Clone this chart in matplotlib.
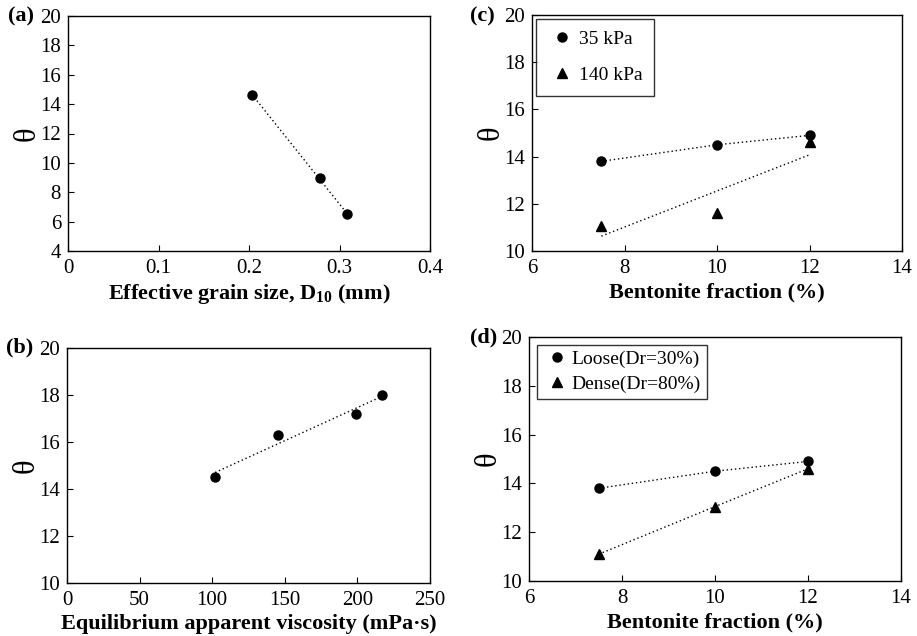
import numpy as np
import matplotlib
matplotlib.use("Agg")
import matplotlib.pyplot as plt

plt.rcParams['font.family'] = ['Liberation Serif', 'DejaVu Serif']
plt.rcParams['mathtext.fontset'] = 'custom'
plt.rcParams['mathtext.rm'] = 'Liberation Serif'
plt.rcParams['mathtext.bf'] = 'Liberation Serif:bold'

# (a) effective grain size
d10 = [0.203, 0.278, 0.308]
theta_a = [14.65, 9.0, 6.5]

# (b) equilibrium apparent viscosity
visc = [102, 145, 199, 217]
theta_b = [14.5, 16.3, 17.2, 18.0]

# (c) bentonite fraction, confining pressure
bent = [7.5, 10, 12]
theta_35 = [13.8, 14.5, 14.9]
theta_140 = [11.05, 11.6, 14.6]

# (d) bentonite fraction, relative density
theta_loose = [13.8, 14.5, 14.9]
theta_dense = [11.1, 13.05, 14.6]

W, H = 917, 636
fig = plt.figure(figsize=(W / 100, H / 100), dpi=100)


def box(l, r, t, b):
    return [l / W, 1 - b / H, (r - l) / W, (b - t) / H]


dots = (0, (1, 2))
mk = dict(color='black', markersize=6.5, linestyle='none')


def trend(ax, x, y):
    k, c = np.polyfit(x, y, 1)
    xs = np.array([min(x), max(x)])
    ax.plot(xs, k * xs + c, color='black', lw=1, linestyle=dots)


def style(ax, xlabel, xlim, xticks, ylim, yticks, xfmt=None):
    ax.set_xlim(*xlim)
    ax.set_ylim(*ylim)
    ax.set_xticks(xticks)
    ax.set_yticks(yticks)
    if xfmt:
        ax.set_xticklabels(xfmt)
    ax.tick_params(direction='in', labelsize=15, length=4, width=0.8)
    ax.tick_params(axis='x', pad=6)
    ax.tick_params(axis='y', pad=5)
    ax.set_xlabel(xlabel, fontsize=16, fontweight='bold', labelpad=3)
    ax.set_ylabel('θ', fontsize=22, labelpad=-1)
    for s in ax.spines.values():
        s.set_linewidth(1)


ax_a = fig.add_axes(box(68, 430, 16, 251))
trend(ax_a, d10, theta_a)
ax_a.plot(d10, theta_a, marker='o', **mk)
style(ax_a, r'Effective grain size, D$_{\mathbf{10}}$ (mm)', (0, 0.4),
      [0, 0.1, 0.2, 0.3, 0.4], (4, 20), range(4, 21, 2),
      ['0', '0.1', '0.2', '0.3', '0.4'])

ax_b = fig.add_axes(box(67, 430, 348, 583))
trend(ax_b, visc, theta_b)
ax_b.plot(visc, theta_b, marker='o', **mk)
style(ax_b, 'Equilibrium apparent viscosity (mPa·s)', (0, 250),
      range(0, 251, 50), (10, 20), range(10, 21, 2))

ax_c = fig.add_axes(box(532, 902, 15, 251))
ax_c.plot(bent, theta_35, color='black', lw=1, linestyle=dots)
trend(ax_c, bent, theta_140)
ax_c.plot(bent, theta_35, marker='o', label='35 kPa', **mk)
ax_c.plot(bent, theta_140, marker='^', label='140 kPa', **mk)
style(ax_c, 'Bentonite fraction (%)', (6, 14), range(6, 15, 2),
      (10, 20), range(10, 21, 2))
leg = ax_c.legend(loc='upper left', fontsize=14, frameon=True, fancybox=False,
                  edgecolor='black', labelspacing=0.95, handletextpad=0.1,
                  handlelength=1.5, borderpad=0.6, borderaxespad=0.2)
leg.get_frame().set_linewidth(1)

ax_d = fig.add_axes(box(529, 901, 337, 581))
ax_d.plot(bent, theta_loose, color='black', lw=1, linestyle=dots)
ax_d.plot(bent, theta_dense, color='black', lw=1, linestyle=dots)
ax_d.plot(bent, theta_loose, marker='o', label='Loose(Dr=30%)', **mk)
ax_d.plot(bent, theta_dense, marker='^', label='Dense(Dr=80%)', **mk)
style(ax_d, 'Bentonite fraction (%)', (6, 14), range(6, 15, 2),
      (10, 20), range(10, 21, 2))
leg = ax_d.legend(loc='upper left', fontsize=14, frameon=True, fancybox=False,
                  edgecolor='black', labelspacing=0.35, handletextpad=0.0,
                  handlelength=1.5, borderpad=0.3, borderaxespad=0.4)
leg.get_frame().set_linewidth(1)

for lab, x, y in [('(a)', 8, 16), ('(c)', 470, 16), ('(b)', 6, 347), ('(d)', 470, 337)]:
    fig.text(x / W, 1 - y / H, lab, fontsize=16, fontweight='bold',
             ha='left', va='center')

fig.savefig('out.png', dpi=100)
